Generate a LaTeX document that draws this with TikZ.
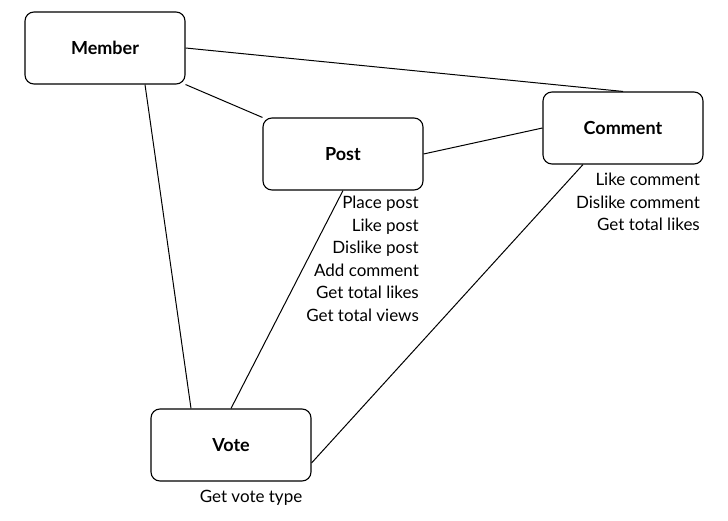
\documentclass[tikz,border=0pt]{standalone}
\usepackage{fontspec}
\setmainfont{Lato}
\begin{document}
\begin{tikzpicture}[x=1pt,y=-1pt,
  cls/.style={draw,line width=1.1pt,rounded corners=9pt,minimum width=160pt,minimum height=72pt,inner sep=0pt,font=\fontsize{18}{20}\selectfont\bfseries},
  ops/.style={inner sep=0pt,align=right,font=\fontsize{17}{22.5}\selectfont},
  lnk/.style={line width=1pt}]
\useasboundingbox (0,0) rectangle (728,521);
\node[cls] (member) at (105,48) {Member};
\node[cls] (post) at (343,154) {Post};
\node[cls] (comment) at (623,128) {Comment};
\node[cls] (vote) at (231,445) {Vote};
\node[ops,anchor=north east] (postops) at (419,196) {Place post\\Like post\\Dislike post\\Add comment\\Get total likes\\Get total views};
\node[ops,anchor=north east] (commentops) at (700,173) {Like comment\\Dislike comment\\Get total likes};
\node[ops,anchor=north] (voteops) at (251,490) {Get vote type};
\coordinate (mb) at ([xshift=40pt]member.south);
\coordinate (vt) at ([xshift=-40pt]vote.north);
\coordinate (cb) at ([xshift=-40pt]comment.south);
\coordinate (ve) at ([yshift=-18pt]vote.east);
\draw[lnk] (member.east) -- (comment.north);
\draw[lnk] (member.south east) -- (post.north west);
\draw[lnk] (mb) -- (vt);
\draw[lnk] (post.east) -- (comment.west);
\draw[lnk] (post.south) -- (vote.north);
\draw[lnk] (cb) -- (ve);
\end{tikzpicture}
\end{document}
